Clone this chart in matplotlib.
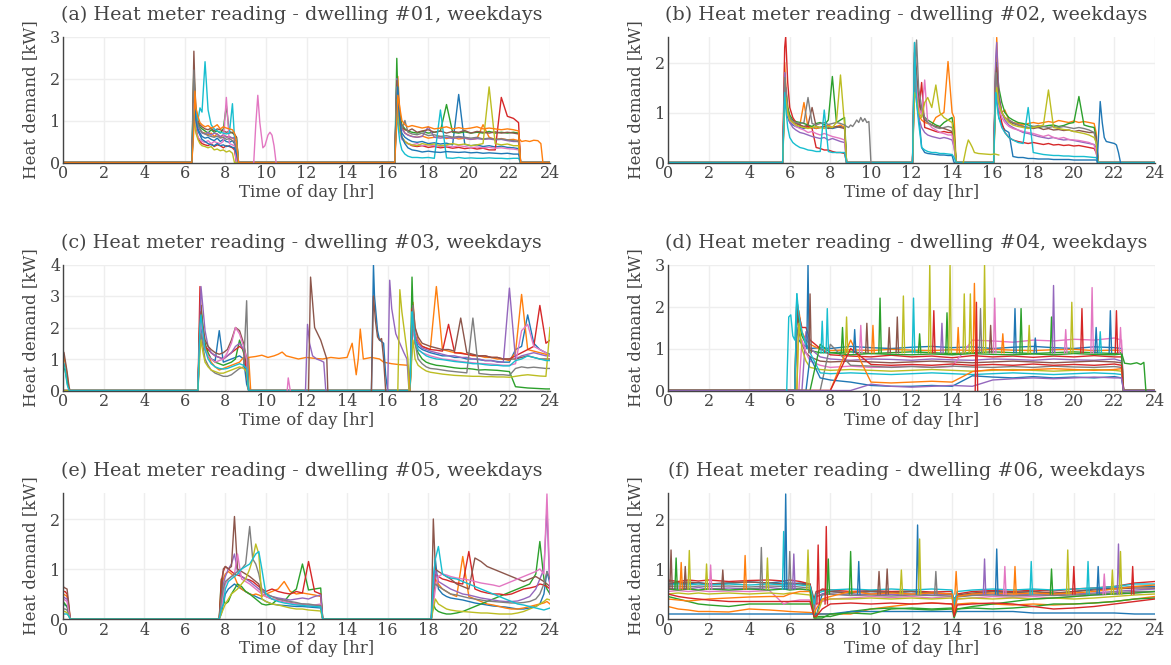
import matplotlib
matplotlib.use('Agg')
import matplotlib.pyplot as plt

# plotly / d3 default colour cycle
COLORS = ['#1f77b4', '#ff7f0e', '#2ca02c', '#d62728', '#9467bd',
          '#8c564b', '#e377c2', '#7f7f7f', '#bcbd22', '#17becf']

TITLES = ['(a) Heat meter reading - dwelling #01, weekdays',
          '(b) Heat meter reading - dwelling #02, weekdays',
          '(c) Heat meter reading - dwelling #03, weekdays',
          '(d) Heat meter reading - dwelling #04, weekdays',
          '(e) Heat meter reading - dwelling #05, weekdays',
          '(f) Heat meter reading - dwelling #06, weekdays']
Y_MAX = [3, 2.52, 4, 3, 2.52, 2.52]
Y_TICKS = [[0, 1, 2, 3], [0, 1, 2], [0, 1, 2, 3, 4], [0, 1, 2, 3], [0, 1, 2], [0, 1, 2]]
X_TICKS = [0, 2, 4, 6, 8, 10, 12, 14, 16, 18, 20, 22, 24]

# ---------------- dwelling 01 ----------------
A_T_AM = [6.35, 6.45, 6.5, 6.55, 6.65, 6.75, 6.85, 7.0, 7.15, 7.3, 7.45, 7.6, 7.75, 7.9, 8.05, 8.2, 8.35, 8.45, 8.55, 8.65]
A_T_PM = [16.35, 16.45, 16.5, 16.6, 16.7, 16.85, 17.0, 17.2, 17.45, 17.7, 18.0, 18.3, 18.6, 18.9, 19.2, 19.5, 19.8, 20.1, 20.4,
          20.7, 21.0, 21.3, 21.6, 21.9, 22.2, 22.45, 22.55]
A_AM = [
    [0, 1.6, 1.2, 0.95, 0.8, 0.7, 0.62, 0.58, 0.6, 0.55, 0.52, 0.58, 0.5, 0.55, 0.5, 0.48, 0.52, 0.45, 0, 0],
    [0, 2.0, 1.5, 1.1, 0.9, 0.78, 0.72, 0.7, 0.66, 0.7, 0.62, 0.68, 0.6, 0.65, 0.62, 0.6, 0.58, 0.55, 0.5, 0],
    [0, 2.3, 1.6, 1.2, 0.95, 0.85, 0.8, 0.75, 0.7, 0.78, 0.72, 0.75, 0.7, 0.8, 1.35, 0.7, 0.72, 0.65, 0.6, 0],
    [0, 1.5, 1.1, 0.8, 0.6, 0.5, 0.45, 0.42, 0.4, 0.45, 0.38, 0.42, 0.4, 0.35, 0.4, 0.38, 0.35, 0.3, 0, 0],
    [0, 1.8, 1.4, 1.0, 0.85, 0.78, 0.7, 0.68, 0.72, 0.65, 0.7, 0.68, 0.62, 0.66, 0.6, 0.62, 0.58, 0.6, 0, 0],
    [0, 2.65, 1.8, 1.3, 1.0, 0.9, 0.85, 0.8, 0.78, 0.82, 0.75, 0.8, 0.78, 0.75, 0.72, 0.74, 0.7, 0.68, 0.6, 0],
    [0, 1.4, 1.0, 0.75, 0.6, 0.55, 0.5, 0.48, 0.52, 0.45, 0.5, 0.47, 0.45, 0.5, 1.55, 0.45, 0.42, 0.4, 0, 0],
    [0, 2.2, 1.5, 1.1, 0.9, 0.8, 0.72, 0.68, 0.64, 0.62, 0.6, 0.63, 0.58, 0.6, 0.55, 0.57, 0.52, 0.5, 0.3, 0],
    [0, 1.2, 0.9, 0.7, 0.55, 0.45, 0.4, 0.38, 0.35, 0.38, 0.3, 0.32, 0.28, 0.3, 0.25, 0.28, 0.22, 0, 0, 0],
    [0, 1.0, 1.4, 1.2, 1.0, 1.3, 1.2, 2.4, 1.25, 0.9, 0.8, 0.75, 0.72, 0.7, 0.68, 0.7, 1.4, 0.6, 0.55, 0],
    [0, 1.1, 1.3, 1.0, 0.75, 0.65, 0.55, 0.5, 0.45, 0.42, 0.4, 0.45, 0.4, 0.42, 0.38, 0.4, 0.36, 0.35, 0.2, 0],
    [0, 0.8, 1.7, 1.3, 1.1, 0.95, 0.9, 0.85, 0.88, 0.82, 0.85, 0.9, 0.8, 0.85, 0.82, 0.8, 0.78, 0.7, 0.5, 0],
]
A_PM = [
    [0, 1.9, 1.4, 0.9, 0.7, 0.6, 0.55, 0.5, 0.48, 0.5, 0.45, 0.47, 0.44, 0.46, 0.42, 1.62, 0.43, 0.4, 0.42, 0.38, 0.4, 0.37, 0.39, 0.36, 0.35, 0.33, 0],
    [0, 1.7, 2.05, 1.2, 0.85, 0.7, 0.66, 0.62, 0.6, 0.63, 0.58, 0.6, 0.62, 0.57, 0.6, 0.56, 0.58, 0.55, 0.57, 0.9, 0.6, 0.55, 0.57, 0.54, 0.55, 0.52, 0],
    [0, 2.48, 1.6, 1.1, 0.9, 0.8, 0.75, 0.72, 0.7, 0.74, 0.7, 0.72, 0.75, 1.38, 0.72, 0.7, 0.73, 0.7, 0.72, 0.7, 0.74, 0.7, 0.72, 0.7, 0.72, 0.7, 0],
    [0, 1.6, 1.2, 0.8, 0.6, 0.5, 0.45, 0.4, 0.38, 0.4, 0.36, 0.38, 0.35, 0.37, 0.34, 0.36, 0.33, 0.35, 0.32, 0.34, 0.3, 0.3, 1.55, 1.1, 1.05, 0.95, 0],
    [0, 2.0, 1.5, 1.0, 0.8, 0.7, 0.65, 0.62, 0.6, 0.62, 0.85, 0.6, 0.58, 0.6, 0.57, 0.6, 0.58, 0.55, 0.57, 0.55, 0.56, 0.54, 0.55, 0.52, 0.5, 0.5, 0],
    [0, 1.95, 1.4, 1.0, 0.85, 0.78, 0.75, 0.8, 0.72, 0.75, 0.78, 0.72, 0.75, 0.7, 0.74, 0.72, 0.76, 0.7, 0.74, 0.72, 0.7, 0.73, 0.7, 0.72, 0.7, 0.68, 0],
    [0, 1.3, 1.0, 0.7, 0.55, 0.5, 0.45, 0.42, 0.45, 0.4, 0.42, 0.4, 0.38, 0.4, 0.37, 0.4, 0.38, 0.35, 0.37, 0.35, 0.36, 0.34, 0.35, 0.33, 0.32, 0.3, 0],
    [0, 1.8, 1.3, 0.95, 0.8, 1.0, 0.72, 0.68, 0.66, 0.7, 0.64, 0.66, 0.62, 0.64, 0.6, 0.62, 0.6, 0.58, 0.6, 0.56, 0.58, 0.55, 0.56, 0.54, 0.52, 0.5, 0],
    [0, 1.5, 1.1, 0.75, 0.6, 0.5, 0.45, 0.42, 0.4, 0.45, 0.42, 0.44, 0.4, 0.42, 0.45, 0.42, 0.44, 0.4, 0.42, 0.45, 1.8, 0.45, 0.42, 0.44, 0.4, 0.4, 0],
    [0, 1.2, 0.9, 0.5, 0.3, 0.2, 0.15, 0.12, 0.12, 0.11, 0.12, 0.1, 1.25, 0.11, 0.1, 0.12, 0.1, 0.11, 0.1, 0.1, 0.11, 0.1, 0.1, 0.09, 0.1, 0.1, 0],
    [0, 1.4, 1.8, 1.0, 0.6, 0.45, 0.35, 0.3, 0.28, 0.25, 0.27, 0.25, 0.24, 0.26, 0.25, 0.24, 0.25, 0.23, 0.24, 0.22, 0.23, 0.22, 0.21, 0.22, 0.2, 0.2, 0],
    [0, 1.0, 1.6, 1.3, 1.0, 0.9, 0.85, 0.88, 0.85, 0.82, 0.85, 0.8, 0.82, 0.85, 0.8, 0.83, 0.8, 0.82, 0.85, 0.8, 0.82, 0.8, 0.78, 0.8, 0.78, 0.75, 0],
]
A_EXTRA = [
    ([9.4, 9.5, 9.6, 9.7, 9.85, 9.95, 10.1, 10.2, 10.3, 10.4, 10.5], [0, 0.9, 1.6, 0.95, 0.35, 0.4, 0.65, 0.72, 0.65, 0.4, 0]),
    ([22.5, 22.6, 22.8, 23.0, 23.2, 23.4, 23.55, 23.65], [0.55, 0.5, 0.52, 0.5, 0.53, 0.52, 0.45, 0]),
]
A_EXTRA_COLORS = [6, 1]

# ---------------- dwelling 02 ----------------
B_T_AM = [5.65, 5.75, 5.8, 5.9, 6.0, 6.15, 6.3, 6.5, 6.7, 6.9, 7.1, 7.3, 7.5, 7.7, 7.9, 8.1, 8.3, 8.5, 8.7, 8.8]
B_T_MID = [12.05, 12.15, 12.25, 12.35, 12.5, 12.65, 12.8, 13.0, 13.2, 13.4, 13.6, 13.8, 14.0, 14.1, 14.2]
B_T_PM = [16.05, 16.15, 16.2, 16.3, 16.45, 16.6, 16.8, 17.0, 17.25, 17.5, 17.75, 18.0, 18.25, 18.5, 18.75, 19.0, 19.25,
          19.5, 19.75, 20.0, 20.25, 20.5, 20.75, 21.0, 21.1, 21.2]
B_AM = [
    [0, 1.5, 1.2, 0.9, 0.8, 0.75, 0.72, 0.7, 0.68, 0.72, 0.7, 0.68, 0.7, 0.72, 0.7, 0.68, 0.7, 0.72, 0.7, 0],
    [0, 2.0, 1.6, 1.1, 0.9, 0.8, 0.78, 0.75, 1.2, 0.7, 0.72, 0.68, 0.7, 0.72, 0.75, 0.7, 0.72, 0.75, 0.7, 0],
    [0, 1.3, 1.5, 1.1, 0.95, 0.85, 0.82, 0.8, 0.78, 0.75, 0.72, 0.78, 0.8, 0.75, 0.85, 1.72, 0.8, 0.85, 0.9, 0],
    [0, 2.3, 2.52, 1.6, 1.1, 0.9, 0.8, 0.75, 0.7, 0.72, 0.68, 0.3, 0.28, 0.25, 0.25, 0.22, 0.2, 0.2, 0.18, 0],
    [0, 1.8, 1.5, 1.0, 0.8, 0.7, 0.65, 0.6, 0.58, 0.55, 0.52, 0.5, 0.48, 0.5, 0.45, 0.48, 0.45, 0.42, 0.4, 0],
    [0, 1.6, 1.3, 1.0, 0.85, 0.8, 0.78, 0.75, 0.72, 0.75, 1.1, 0.72, 0.7, 0.72, 0.68, 0.7, 0.72, 0.7, 0.68, 0],
    [0, 1.4, 1.2, 0.95, 0.85, 0.78, 0.72, 0.68, 0.65, 0.6, 0.62, 0.58, 0.55, 0.58, 0.55, 0.52, 0.5, 0.48, 0.45, 0],
    [0, 1.7, 1.4, 1.0, 0.9, 0.82, 0.8, 0.78, 0.8, 1.3, 0.78, 0.75, 0.78, 0.8, 0.76, 0.78, 0.8, 0.78, 0.75, 0],
    [0, 1.1, 1.3, 1.0, 0.85, 0.8, 0.75, 0.72, 0.7, 0.68, 0.7, 0.72, 0.7, 0.68, 0.72, 0.7, 0.8, 1.75, 0.75, 0],
    [0, 1.4, 1.1, 0.7, 0.5, 0.4, 0.35, 0.3, 0.28, 0.25, 0.24, 0.22, 0.22, 1.05, 0.22, 0.2, 0.2, 0.2, 0.2, 0],
]
B_MID = [
    [0, 2.0, 1.4, 1.0, 0.3, 0.2, 0.18, 0.17, 0.16, 0.15, 0.15, 0.14, 0.14, 0, 0],
    [0, 1.7, 1.3, 0.95, 0.85, 0.8, 0.78, 0.75, 0.9, 0.95, 1.0, 2.02, 1.0, 0.9, 0],
    [0, 1.8, 1.6, 1.2, 1.0, 0.9, 0.85, 0.8, 0.75, 0.72, 0.8, 0.85, 0.9, 0.6, 0],
    [0, 2.2, 1.4, 1.0, 1.6, 0.7, 0.68, 0.65, 0.62, 0.6, 0.62, 0.6, 0.6, 0.4, 0],
    [0, 1.5, 1.2, 0.9, 0.7, 0.6, 0.55, 0.52, 0.5, 0.48, 0.5, 0.48, 0.45, 0.3, 0],
    [0, 2.4, 1.8, 1.3, 1.0, 0.85, 0.8, 0.75, 0.72, 0.7, 0.68, 0.65, 0.62, 0.5, 0],
    [0, 1.9, 1.5, 1.1, 0.95, 1.65, 0.8, 0.7, 0.65, 0.6, 0.58, 0.55, 0.55, 0.3, 0],
    [0, 1.6, 2.45, 1.5, 1.1, 0.9, 0.8, 0.75, 0.7, 0.68, 0.7, 0.72, 0.7, 0.5, 0],
    [0, 1.4, 1.3, 1.0, 0.9, 1.2, 1.3, 1.1, 1.55, 1.0, 0.9, 0.85, 0.8, 0.5, 0],
    [0, 2.4, 1.2, 0.8, 0.3, 0.25, 0.22, 0.2, 0.2, 0.18, 0.18, 0.17, 0.16, 0.1, 0],
]
B_PM = [
    [0, 1.8, 1.3, 0.9, 0.75, 0.65, 0.6, 0.12, 0.1, 0.1, 0.08, 0.08, 0.07, 0.07, 0.07, 0.06, 0.06, 0.06, 0.06, 0.05, 0.05, 0.05, 0.05, 0.05, 0.05, 0],
    [0, 1.5, 2.5, 1.3, 1.0, 1.05, 0.85, 0.8, 0.78, 0.75, 0.78, 0.8, 0.78, 0.8, 0.82, 0.8, 0.84, 0.82, 0.8, 0.83, 0.8, 0.82, 0.8, 0.78, 0.6, 0],
    [0, 1.9, 2.0, 1.5, 1.2, 1.0, 0.9, 0.85, 0.8, 0.78, 0.75, 0.72, 0.7, 0.72, 0.74, 0.75, 0.72, 0.74, 0.78, 0.8, 1.32, 0.75, 0.72, 0.7, 0.5, 0],
    [0, 2.0, 1.6, 1.1, 0.8, 0.6, 0.5, 0.45, 0.42, 0.4, 0.38, 0.4, 0.38, 0.36, 0.38, 0.35, 0.36, 0.34, 0.35, 0.33, 0.34, 0.32, 0.3, 0.28, 0.2, 0],
    [0, 2.1, 2.4, 1.4, 1.0, 0.85, 0.75, 0.7, 0.65, 0.6, 0.58, 0.55, 0.52, 0.5, 0.48, 0.5, 0.47, 0.45, 0.46, 0.44, 0.42, 0.4, 0.38, 0.36, 0.3, 0],
    [0, 1.7, 1.9, 1.3, 1.0, 0.9, 0.82, 0.78, 0.75, 0.72, 0.7, 0.68, 0.7, 0.66, 0.68, 0.65, 0.66, 0.64, 0.65, 0.62, 0.64, 0.62, 0.6, 0.6, 0.5, 0],
    [0, 1.6, 1.4, 1.1, 0.9, 0.8, 0.72, 0.68, 0.65, 0.62, 0.6, 0.58, 0.55, 0.52, 0.55, 0.5, 0.48, 0.5, 0.46, 0.45, 0.44, 0.42, 0.4, 0.35, 0.2, 0],
    [0, 1.8, 1.6, 1.2, 1.0, 0.9, 0.85, 0.8, 0.75, 0.72, 0.7, 0.72, 0.74, 0.72, 0.7, 0.72, 0.7, 0.72, 0.7, 0.68, 0.7, 0.68, 0.65, 0.6, 0.4, 0],
    [0, 1.2, 1.5, 1.2, 1.0, 0.9, 0.8, 0.75, 0.72, 0.7, 0.68, 0.7, 0.72, 0.75, 1.45, 0.7, 0.68, 0.66, 0.65, 0.62, 0.6, 0.58, 0.55, 0.5, 0.4, 0],
    [0, 1.4, 1.2, 0.9, 0.7, 0.6, 0.5, 0.45, 0.4, 0.38, 1.1, 0.2, 0.18, 0.16, 0.15, 0.14, 0.14, 0.13, 0.13, 0.12, 0.12, 0.12, 0.11, 0.1, 0.1, 0],
]
B_EXTRA = [
    ([8.7, 8.8, 8.9, 9.0, 9.1, 9.2, 9.3, 9.4, 9.5, 9.6, 9.7, 9.8, 9.9, 10.0],
     [0.75, 0.72, 0.7, 0.75, 0.72, 0.78, 0.85, 0.8, 0.9, 0.82, 0.88, 0.8, 0.82, 0]),
    ([14.55, 14.7, 14.8, 14.9, 15.0, 15.1, 15.3, 15.6, 15.9, 16.1, 16.3], [0, 0.3, 0.45, 0.38, 0.3, 0.2, 0.18, 0.17, 0.16, 0.17, 0.15]),
    ([21.15, 21.25, 21.3, 21.4, 21.5, 21.6, 21.8, 22.0, 22.1, 22.2, 22.3], [0, 0.8, 1.22, 0.8, 0.5, 0.42, 0.4, 0.38, 0.35, 0.2, 0]),
]
B_EXTRA_COLORS = [7, 8, 0]

# ---------------- dwelling 03 ----------------
C_T_0 = [0.0, 0.05, 0.1, 0.2, 0.3, 0.35]
C_T_AM = [6.65, 6.75, 6.8, 6.9, 7.0, 7.15, 7.3, 7.5, 7.7, 7.9, 8.1, 8.3, 8.5, 8.7, 8.9, 9.05, 9.15, 9.25]
C_T_PM = [17.1, 17.2, 17.25, 17.35, 17.5, 17.7, 17.9, 18.1, 18.4, 18.7, 19.0, 19.3, 19.6, 19.9, 20.2, 20.5, 20.8, 21.1,
          21.4, 21.7, 22.0, 22.3, 22.6, 22.9, 23.2, 23.5, 23.8, 24.0]
C_START = [
    [0, 0, 0, 0, 0, 0],
    [1.1, 1.05, 0.9, 0.5, 0.05, 0],
    [0.75, 0.7, 0.65, 0.3, 0, 0],
    [0, 0, 0, 0, 0, 0],
    [0, 0, 0, 0, 0, 0],
    [1.25, 1.2, 1.0, 0.6, 0.1, 0],
    [0, 0, 0, 0, 0, 0],
    [0, 0, 0, 0, 0, 0],
    [0, 0, 0, 0, 0, 0],
    [0.9, 0.85, 0.7, 0.2, 0, 0],
]
C_AM = [
    [0, 2.35, 2.0, 1.6, 1.3, 1.1, 1.0, 0.95, 1.9, 0.9, 0.95, 1.0, 1.05, 1.1, 1.0, 0.2, 0, 0],
    [0, 2.2, 2.7, 1.8, 1.4, 1.1, 0.9, 0.75, 0.65, 0.7, 0.75, 0.8, 0.85, 0.9, 1.05, 1.0, 1.05, 0],
    [0, 2.5, 2.7, 2.0, 1.5, 1.2, 1.0, 0.9, 0.85, 0.8, 0.85, 0.9, 1.0, 1.6, 1.2, 0.8, 0, 0],
    [0, 3.3, 2.5, 1.8, 1.4, 1.3, 1.2, 1.1, 1.05, 1.0, 1.1, 1.2, 1.3, 1.4, 1.3, 0.5, 0, 0],
    [0, 2.0, 3.3, 2.6, 1.9, 1.4, 1.2, 1.1, 1.05, 1.0, 1.1, 1.2, 1.4, 1.5, 1.3, 1.0, 0, 0],
    [0, 2.0, 2.5, 2.0, 1.6, 1.4, 1.3, 1.2, 1.15, 1.2, 1.3, 1.6, 2.0, 1.9, 1.5, 1.0, 0, 0],
    [0, 1.8, 2.2, 1.7, 1.3, 1.1, 1.0, 0.9, 0.95, 1.0, 1.2, 1.5, 2.0, 1.8, 1.4, 1.0, 0, 0],
    [0, 1.5, 1.8, 1.4, 1.0, 0.8, 0.65, 0.55, 0.5, 0.45, 0.45, 0.5, 0.6, 0.7, 0.75, 2.85, 0, 0],
    [0, 1.2, 1.6, 1.2, 0.9, 0.75, 0.65, 0.6, 0.55, 0.55, 0.6, 0.65, 0.7, 0.75, 0.7, 0.6, 0, 0],
    [0, 2.1, 2.4, 1.8, 1.3, 1.0, 0.85, 0.75, 0.7, 0.68, 0.7, 0.75, 0.8, 0.85, 0.8, 0.7, 0, 0],
]
C_PM = [
    [0, 2.2, 2.0, 1.6, 1.4, 1.3, 1.25, 1.2, 1.15, 1.1, 1.1, 1.05, 1.05, 1.0, 1.0, 0.98, 0.95, 0.95, 0.92, 0.9, 0.9, 1.3, 1.4, 2.4, 1.5, 1.3, 1.2, 1.15],
    [0, 1.5, 2.8, 2.0, 1.6, 1.4, 1.35, 1.3, 3.3, 1.3, 1.25, 1.2, 1.2, 1.15, 1.1, 1.1, 1.05, 1.05, 1.0, 1.0, 0.95, 1.2, 3.05, 1.3, 1.25, 1.2, 1.15, 1.1],
    [0, 3.6, 2.5, 1.5, 1.2, 1.0, 0.9, 0.85, 0.8, 0.78, 0.75, 0.72, 0.7, 0.7, 0.68, 0.65, 0.66, 0.65, 0.64, 0.62, 0.6, 0.12, 0.1, 0.08, 0.07, 0.06, 0.05, 0.05],
    [0, 2.6, 2.0, 1.7, 1.5, 1.4, 1.35, 1.3, 1.28, 1.25, 2.1, 1.2, 1.18, 1.15, 1.12, 1.1, 1.1, 1.05, 1.05, 1.0, 1.0, 1.1, 1.2, 1.3, 1.4, 2.7, 1.5, 1.6],
    [0, 2.2, 2.6, 1.8, 1.5, 1.35, 1.3, 1.25, 1.2, 1.15, 1.1, 1.1, 1.05, 1.05, 1.0, 1.0, 0.95, 0.95, 0.9, 0.9, 3.25, 1.0, 1.1, 1.15, 1.2, 1.15, 1.1, 1.1],
    [0, 2.0, 2.7, 2.0, 1.7, 1.5, 1.45, 1.4, 1.35, 1.3, 1.3, 1.25, 2.3, 1.2, 1.15, 1.1, 1.1, 1.05, 1.05, 1.0, 1.0, 1.0, 1.05, 1.1, 1.05, 1.0, 1.0, 1.0],
    [0, 1.6, 2.0, 1.5, 1.3, 1.2, 1.15, 1.1, 1.05, 1.0, 0.98, 0.95, 0.92, 0.9, 0.88, 0.86, 0.85, 0.84, 0.82, 0.8, 0.8, 0.85, 1.9, 2.1, 1.4, 1.3, 1.2, 1.1],
    [0, 1.4, 2.7, 1.5, 1.0, 0.85, 0.75, 0.7, 0.68, 0.65, 0.62, 0.6, 0.58, 0.56, 2.3, 0.54, 0.52, 0.5, 0.5, 0.5, 0.48, 0.7, 0.75, 0.72, 0.74, 0.72, 0.7, 0.7],
    [0, 1.2, 1.6, 1.0, 0.8, 0.7, 0.62, 0.58, 0.55, 0.52, 0.5, 0.48, 0.47, 0.46, 0.45, 0.45, 0.44, 0.44, 0.43, 0.43, 0.42, 0.45, 0.48, 0.5, 0.48, 0.46, 0.45, 2.0],
    [0, 2.5, 2.2, 1.6, 1.3, 1.2, 1.1, 1.05, 1.0, 0.98, 0.95, 0.92, 0.9, 0.88, 0.85, 0.85, 0.82, 0.8, 0.8, 0.78, 0.78, 0.95, 1.0, 1.1, 1.05, 1.0, 0.95, 0.95],
]
C_EXTRA = [
    ([9.15, 9.5, 9.8, 10.1, 10.4, 10.6, 10.8, 11.0, 11.3, 11.6, 12.0, 12.4, 12.8, 13.2, 13.6, 14.0, 14.25, 14.35, 14.45,
      14.55, 14.65, 14.8, 15.2, 15.6, 15.8, 16.2, 16.6, 17.0, 17.1],
     [1.05, 1.08, 1.12, 1.05, 1.1, 1.15, 1.22, 1.1, 1.05, 1.0, 1.05, 1.02, 1.0, 1.05, 1.02, 1.05, 1.5, 1.0, 0.5,
      1.0, 1.95, 1.0, 1.05, 1.0, 0.9, 0.85, 0.82, 0.8, 0]),
    ([11.05, 11.1, 11.2], [0, 0.4, 0]),
    ([11.95, 12.05, 12.15, 12.3, 12.5, 12.7, 12.85, 12.95], [0, 2.1, 1.5, 1.1, 1.0, 0.95, 0.9, 0]),
    ([12.1, 12.2, 12.3, 12.4, 12.55, 12.7, 12.85, 13.0, 13.05], [0, 3.6, 2.8, 2.0, 1.8, 1.6, 1.3, 1.0, 0]),
    ([15.2, 15.3, 15.35, 15.5, 15.6, 15.7, 15.8, 15.9, 16.0], [0, 4.0, 3.0, 1.9, 1.6, 1.55, 1.5, 0.5, 0]),
    ([15.2, 15.3, 15.4, 15.5, 15.6, 15.7, 15.8, 15.9], [0, 3.0, 2.2, 1.7, 1.6, 1.65, 1.0, 0]),
    ([16.0, 16.1, 16.2, 16.4, 16.6, 16.8, 16.95, 17.05], [0, 3.5, 2.6, 1.8, 1.5, 1.2, 1.0, 0]),
    ([16.5, 16.6, 16.7, 16.9, 17.0, 17.05], [0, 3.2, 2.5, 1.5, 1.0, 0]),
]
C_EXTRA_COLORS = [1, 6, 4, 5, 0, 5, 4, 8]

# ---------------- dwelling 04 ----------------
D_T = [6.25, 6.35, 6.45, 6.6, 6.8, 7.0, 7.5, 8.0, 9.0, 10.0, 11.0, 12.0, 13.0, 14.0, 15.0, 16.0, 17.0, 18.0, 19.0, 20.0,
       21.0, 22.0, 22.35, 22.45]
D_DAY = [
    [0, 1.5, 1.2, 1.1, 1.05, 1.0, 1.02, 1.0, 1.05, 1.02, 1.0, 1.03, 1.05, 1.02, 1.04, 1.0, 1.03, 1.05, 1.02, 1.0, 1.04, 1.02, 1.0, 0],
    [0, 0, 1.9, 1.4, 1.2, 1.1, 0.98, 0.95, 0.97, 0.95, 0.98, 0.96, 0.95, 0.97, 0.95, 0.98, 0.96, 0.95, 0.97, 0.98, 0.95, 0.96, 0.95, 0],
    [0, 2.2, 1.6, 1.3, 1.1, 0.95, 0.9, 0.9, 0.92, 0.88, 0.9, 0.92, 0.9, 0.88, 0.9, 0.92, 0.9, 0.88, 0.9, 0.92, 0.9, 0.88, 0.9, 0],
    [0, 2.15, 1.8, 1.5, 1.5, 1.2, 1.0, 0.85, 0.82, 0.8, 0.84, 0.8, 0.82, 0.78, 0.83, 0.8, 0.82, 0.79, 0.82, 0.8, 0.83, 0.8, 0.8, 0],
    [0, 0, 0, 0, 1.4, 1.0, 0.8, 0.75, 0.72, 0.75, 0.74, 0.72, 0.75, 0.73, 0.72, 0.75, 0.74, 0.72, 0.75, 0.73, 0.72, 0.75, 0.7, 0],
    [0, 1.9, 1.4, 1.1, 0.9, 0.8, 0.7, 0.68, 0.7, 0.68, 0.66, 0.68, 0.7, 0.68, 0.66, 0.68, 0.7, 0.68, 0.66, 0.68, 0.7, 0.68, 0.66, 0],
    [0, 0, 0, 1.2, 0.9, 0.7, 0.6, 0.55, 0.58, 0.55, 0.56, 0.58, 0.55, 0.57, 1.2, 1.18, 1.15, 1.2, 1.18, 1.22, 1.2, 1.25, 1.2, 0],
    [0, 0, 0, 0, 0, 0, 0, 1.1, 0.6, 0.58, 0.55, 0.57, 0.55, 0.58, 0.56, 0.55, 0.57, 0.55, 0.58, 0.56, 0.55, 0.57, 0.55, 0],
    [0, 0, 1.6, 1.0, 0.7, 0.55, 0.5, 0.48, 0.5, 0.48, 0.46, 0.48, 0.5, 0.48, 0.46, 0.48, 0.5, 0.48, 0.46, 0.48, 0.5, 0.48, 0.46, 0],
    [0, 2.3, 1.8, 1.4, 1.1, 0.9, 0.42, 0.4, 0.42, 0.4, 0.38, 0.4, 0.42, 0.4, 0.38, 0.4, 0.42, 0.4, 0.38, 0.4, 0.42, 0.4, 0.38, 0],
    [0, 0, 0, 0, 0, 0.8, 0.3, 0.25, 0.2, 0.12, 0.1, 0.1, 0.12, 0.1, 0.35, 0.32, 0.3, 0.33, 0.3, 0.32, 0.3, 0.33, 0.3, 0],
    [0, 0, 0, 0, 0, 0, 0, 0, 1.2, 0.2, 0.18, 0.2, 0.22, 0.2, 0.45, 0.5, 0.48, 0.5, 0.52, 0.5, 0.48, 0.5, 0.52, 0],
    [0, 0, 0, 0, 0, 0, 1.1, 0.9, 0.85, 0.88, 0.86, 0.85, 0.87, 0.85, 0.88, 0.86, 0.85, 0.87, 0.85, 0.88, 0.86, 0.85, 0.87, 0],
    [0, 0, 0, 0, 0, 0, 0, 0, 1.0, 0.62, 0.6, 0.62, 0.6, 0.63, 0.6, 0.62, 0.6, 0.63, 0.6, 0.62, 0.6, 0.63, 0.6, 0],
    [0, 0, 0, 0, 0, 0, 0, 0, 0, 0.15, 0.1, 0.08, 0.1, 0.12, 0.1, 0.25, 0.28, 0.3, 0.28, 0.3, 0.32, 0.3, 0.3, 0],
]
D_EXTRA = [
    ([5.85, 5.95, 6.05, 6.15, 6.25, 6.35], [0, 1.75, 1.8, 1.3, 1.2, 2.3]),
    ([22.35, 22.5, 22.8, 23.1, 23.3, 23.45, 23.55], [0.9, 0.65, 0.63, 0.66, 0.62, 0.67, 0]),
]
D_EXTRA_COLORS = [9, 2]
# short spikes: (time, level before/after, peak)
D_SPIKES = [(6.9, 1.0, 3.0), (7.0, 0.9, 2.3), (7.6, 0.9, 1.65), (7.85, 0.9, 1.95), (8.6, 0.9, 1.5), (8.8, 0.9, 1.75),
            (9.2, 0.9, 1.45), (9.5, 0.9, 1.55), (9.8, 0.9, 1.6), (10.1, 0.9, 1.55), (10.45, 0.9, 2.2), (10.9, 0.9, 1.5),
            (11.3, 0.9, 1.75), (11.6, 0.9, 2.25), (12.1, 0.9, 2.2), (12.4, 0.9, 1.35), (12.9, 0.9, 3.0), (13.1, 0.9, 1.9),
            (13.5, 0.9, 1.6), (13.75, 0.9, 1.85), (13.9, 0.9, 3.0), (14.3, 0.9, 1.5), (14.6, 0.9, 2.3), (14.9, 0.9, 2.3),
            (15.1, 0.9, 2.55), (15.2, 0.0, 2.1), (15.4, 0.9, 1.95), (15.6, 0.9, 3.0), (15.9, 0.9, 1.55), (16.1, 0.9, 2.2),
            (16.5, 0.9, 1.35), (17.1, 0.9, 1.95), (17.4, 0.9, 1.95), (17.8, 0.9, 1.55), (18.1, 0.9, 1.25), (18.9, 0.9, 1.75),
            (19.0, 0.9, 2.5), (19.6, 0.9, 1.45), (19.9, 0.9, 2.1), (20.4, 0.9, 1.95), (20.9, 0.9, 2.45), (21.1, 0.9, 1.5),
            (21.3, 0.9, 1.4), (21.8, 0.9, 1.9), (22.1, 0.9, 1.9), (22.3, 0.9, 1.5)]
D_SPIKE_COLORS = [0, 5, 9, 9, 2, 8, 0, 6, 5, 1, 2, 5, 5, 8, 9, 2, 8, 3, 4, 2, 8, 1, 8, 8, 1, 3, 7, 8, 5, 6, 1, 0, 2, 8,
                  0, 2, 4, 6, 8, 3, 6, 0, 9, 0, 3, 6]

# ---------------- dwelling 05 ----------------
E_T_0 = [0.0, 0.1, 0.2, 0.3, 0.35]
E_T_AM = [7.7, 7.8, 7.9, 8.0, 8.15, 8.3, 8.45, 8.6, 8.8, 9.0, 9.2, 9.35, 9.5, 9.65, 9.8, 10.0, 10.3, 10.6, 10.9, 11.2,
          11.5, 11.8, 12.1, 12.4, 12.7, 12.8]
E_T_PM = [18.15, 18.25, 18.35, 18.5, 18.7, 18.9, 19.1, 19.4, 19.7, 20.0, 20.3, 20.6, 20.9, 21.2, 21.5, 21.8, 22.1, 22.4,
          22.7, 23.0, 23.3, 23.5, 23.7, 23.85, 24.0]
E_START = [
    [0.3, 0.28, 0.25, 0.1, 0],
    [0.5, 0.48, 0.45, 0.2, 0],
    [0.35, 0.3, 0.25, 0.1, 0],
    [0.55, 0.55, 0.5, 0.2, 0],
    [0.45, 0.42, 0.4, 0.15, 0],
    [0.65, 0.62, 0.6, 0.25, 0],
    [0.4, 0.38, 0.35, 0.1, 0],
    [0.2, 0.2, 0.18, 0.05, 0],
    [0.15, 0.15, 0.12, 0.05, 0],
    [0.1, 0.1, 0.1, 0.05, 0],
]
E_AM = [
    [0, 0.1, 0.3, 0.5, 0.6, 0.65, 0.7, 0.65, 0.6, 0.55, 0.5, 0.48, 0.45, 0.42, 0.4, 0.35, 0.3, 0.28, 0.27, 0.26, 0.25, 0.25, 0.24, 0.23, 0.22, 0],
    [0, 0.6, 0.8, 0.9, 0.95, 0.9, 0.85, 0.7, 0.6, 0.55, 0.5, 0.48, 0.5, 0.48, 0.45, 0.5, 0.55, 0.6, 0.75, 0.55, 0.5, 0.52, 0.5, 0.48, 0.45, 0],
    [0, 0.8, 0.4, 0.3, 0.35, 0.5, 0.6, 0.7, 0.65, 0.55, 0.5, 0.45, 0.4, 0.35, 0.3, 0.28, 0.3, 0.4, 0.35, 0.5, 0.6, 1.1, 0.58, 0.6, 0.62, 0],
    [0, 0.75, 0.95, 1.05, 1.0, 0.95, 0.9, 0.88, 0.85, 0.8, 0.78, 0.75, 0.7, 0.65, 0.6, 0.55, 0.6, 0.55, 0.52, 0.5, 0.55, 0.52, 1.15, 0.55, 0.5, 0],
    [0, 0.3, 0.7, 0.85, 1.0, 1.1, 1.3, 0.95, 0.85, 0.8, 0.75, 0.7, 0.65, 0.6, 0.55, 0.5, 0.45, 0.42, 0.4, 0.38, 0.4, 0.42, 0.4, 0.45, 0.48, 0],
    [0, 0.5, 1.0, 1.05, 1.0, 1.05, 2.05, 1.0, 0.95, 0.9, 0.85, 0.8, 0.75, 0.7, 0.5, 0.45, 0.4, 0.38, 0.35, 0.33, 0.3, 0.3, 0.28, 0.27, 0.26, 0],
    [0, 0.2, 0.5, 0.7, 0.8, 0.85, 0.9, 1.3, 0.8, 0.75, 0.7, 0.65, 0.6, 0.55, 0.5, 0.45, 0.4, 0.38, 0.35, 0.32, 0.3, 0.3, 0.28, 0.28, 0.3, 0],
    [0, 0.4, 0.6, 0.75, 0.8, 0.85, 0.9, 0.95, 1.0, 1.1, 1.85, 1.2, 1.1, 0.9, 0.6, 0.5, 0.45, 0.4, 0.38, 0.35, 0.33, 0.3, 0.3, 0.28, 0.27, 0],
    [0, 0.1, 0.2, 0.3, 0.4, 0.5, 0.55, 0.6, 0.7, 0.8, 1.0, 1.2, 1.5, 1.3, 0.4, 0.35, 0.3, 0.28, 0.25, 0.22, 0.2, 0.2, 0.18, 0.17, 0.16, 0],
    [0, 0.2, 0.3, 0.6, 0.75, 0.8, 0.85, 0.9, 1.0, 1.05, 1.1, 1.2, 1.3, 1.35, 1.0, 0.5, 0.4, 0.35, 0.32, 0.3, 0.28, 0.27, 0.26, 0.25, 0.24, 0],
]
E_PM = [
    [0, 0.8, 1.2, 0.6, 0.5, 0.45, 0.42, 0.4, 0.38, 0.35, 0.32, 0.3, 0.28, 0.26, 0.25, 0.24, 0.22, 0.2, 0.2, 0.22, 0.25, 0.3, 0.5, 0.95, 0.7],
    [0, 0.5, 0.8, 0.7, 0.6, 0.55, 0.5, 0.45, 1.25, 0.45, 0.4, 0.35, 0.3, 0.28, 0.25, 0.22, 0.2, 0.2, 0.22, 0.25, 0.28, 0.3, 0.32, 0.35, 0.3],
    [0, 0.3, 0.2, 0.15, 0.12, 0.1, 0.1, 0.12, 0.15, 0.2, 0.25, 0.3, 0.35, 0.4, 0.45, 0.5, 0.55, 0.6, 0.65, 0.7, 0.9, 1.55, 0.8, 0.6, 0.5],
    [0, 0.4, 0.9, 0.85, 0.8, 0.78, 0.75, 0.72, 0.7, 1.35, 0.6, 0.55, 0.52, 0.5, 0.5, 0.48, 0.5, 0.55, 0.6, 0.62, 0.65, 0.7, 0.68, 0.65, 0.6],
    [0, 0.5, 1.0, 0.75, 0.7, 0.65, 0.6, 0.55, 0.5, 0.48, 0.45, 0.42, 0.4, 0.38, 0.36, 0.35, 0.35, 0.36, 0.4, 0.45, 0.6, 0.8, 1.0, 2.2, 0.5],
    [0, 2.0, 1.0, 0.95, 0.9, 0.85, 0.8, 0.7, 0.65, 0.6, 1.22, 1.15, 1.05, 1.0, 0.95, 0.9, 0.85, 0.8, 0.75, 0.8, 0.85, 0.8, 0.75, 0.7, 0.65],
    [0, 0.3, 0.6, 0.85, 0.9, 0.88, 0.85, 0.82, 0.8, 0.78, 0.75, 0.72, 0.7, 0.68, 0.65, 0.7, 0.75, 0.8, 0.85, 0.9, 0.95, 1.0, 0.9, 2.5, 0.6],
    [0, 0.6, 0.7, 0.65, 0.6, 0.55, 0.5, 0.48, 0.45, 0.42, 0.4, 0.38, 0.36, 0.35, 0.34, 0.33, 0.32, 0.32, 0.33, 0.35, 0.4, 0.5, 0.7, 0.95, 0.8],
    [0, 0.2, 0.4, 0.3, 0.25, 0.2, 0.18, 0.16, 0.15, 0.14, 0.13, 0.12, 0.12, 0.11, 0.1, 0.1, 0.1, 0.12, 0.15, 0.2, 0.25, 0.3, 0.35, 0.4, 0.38],
    [0, 0.8, 1.2, 1.45, 0.9, 0.85, 0.82, 0.8, 0.75, 0.7, 0.65, 0.6, 0.55, 0.5, 0.45, 0.4, 0.35, 0.3, 0.28, 0.25, 0.22, 0.2, 0.18, 0.2, 0.22],
]

# ---------------- dwelling 06 ----------------
F_T = [0.0, 0.5, 1.0, 1.5, 2.0, 3.0, 4.0, 5.0, 5.7, 6.0, 6.5, 7.0, 7.2, 7.3, 7.6, 8.0, 9.0, 10.0, 11.0, 12.0, 13.0,
       14.0, 14.1, 14.25, 15.0, 16.0, 17.0, 18.0, 19.0, 20.0, 21.0, 22.0, 23.0, 24.0]
F_DAY = [
    [0.7, 0.72, 0.7, 0.73, 0.7, 0.72, 0.74, 0.72, 0.75, 0.7, 0.72, 0.7, 0.05, 0.05, 0.5, 0.55, 0.52, 0.55, 0.53, 0.55, 0.52, 0.5, 0.05, 0.45, 0.5, 0.55, 0.52, 0.55, 0.5, 0.55, 0.6, 0.62, 0.65, 0.65],
    [0.25, 0.2, 0.18, 0.15, 0.15, 0.14, 0.2, 0.18, 0.16, 0.15, 0.14, 0.13, 0.12, 0.1, 0.1, 0.1, 0.1, 0.2, 0.25, 0.3, 0.32, 0.3, 0.3, 0.3, 0.32, 0.3, 0.28, 0.3, 0.28, 0.3, 0.32, 0.35, 0.4, 0.45],
    [0.45, 0.4, 0.35, 0.3, 0.28, 0.25, 0.3, 0.3, 0.3, 0.3, 0.3, 0.3, 0.28, 0.05, 0.05, 0.05, 0.15, 0.2, 0.22, 0.2, 0.18, 0.2, 0.2, 0.2, 0.22, 0.2, 0.22, 0.25, 0.3, 0.3, 0.32, 0.35, 0.4, 0.42],
    [0.78, 0.75, 0.78, 0.76, 0.78, 0.75, 0.77, 0.78, 0.76, 0.78, 0.75, 0.7, 0.3, 0.5, 0.6, 0.58, 0.55, 0.57, 0.55, 0.56, 0.54, 0.55, 0.3, 0.5, 0.55, 0.57, 0.55, 0.58, 0.56, 0.6, 0.62, 0.65, 0.72, 0.75],
    [0.6, 0.62, 0.6, 0.63, 0.6, 0.62, 0.6, 0.63, 0.6, 0.62, 0.6, 0.58, 0.1, 0.45, 0.5, 0.5, 0.48, 0.5, 0.49, 0.5, 0.48, 0.5, 0.2, 0.45, 0.48, 0.5, 0.48, 0.5, 0.49, 0.5, 0.52, 0.55, 0.58, 0.6],
    [0.75, 0.72, 0.74, 0.72, 0.7, 0.72, 0.74, 0.72, 0.7, 0.72, 0.7, 0.68, 0.4, 0.55, 0.58, 0.55, 0.52, 0.55, 0.53, 0.55, 0.52, 0.5, 0.4, 0.48, 0.52, 0.55, 0.53, 0.55, 0.52, 0.55, 0.58, 0.6, 0.62, 0.62],
    [0.55, 0.57, 0.55, 0.57, 0.55, 0.56, 0.55, 0.57, 0.3, 0.35, 0.38, 0.38, 0.1, 0.3, 0.35, 0.4, 0.42, 0.45, 0.43, 0.45, 0.42, 0.45, 0.1, 0.4, 0.42, 0.45, 0.43, 0.45, 0.42, 0.45, 0.48, 0.5, 0.52, 0.55],
    [0.65, 0.66, 0.64, 0.66, 0.65, 0.66, 0.64, 0.66, 0.65, 0.66, 0.64, 0.62, 0.2, 0.45, 0.48, 0.5, 0.47, 0.48, 0.46, 0.48, 0.47, 0.46, 0.2, 0.44, 0.47, 0.48, 0.46, 0.48, 0.47, 0.48, 0.5, 0.52, 0.55, 0.55],
    [0.5, 0.52, 0.5, 0.52, 0.5, 0.52, 0.5, 0.52, 0.5, 0.52, 0.5, 0.48, 0.02, 0.02, 0.38, 0.4, 0.4, 0.42, 0.4, 0.42, 0.4, 0.42, 0.4, 0.4, 0.42, 0.4, 0.42, 0.4, 0.42, 0.4, 0.42, 0.45, 0.48, 0.5],
    [0.68, 0.7, 0.68, 0.7, 0.68, 0.7, 0.68, 0.7, 0.68, 0.7, 0.68, 0.66, 0.3, 0.5, 0.55, 0.58, 0.6, 0.58, 0.6, 0.58, 0.6, 0.58, 0.3, 0.55, 0.58, 0.6, 0.58, 0.6, 0.58, 0.6, 0.62, 0.65, 0.7, 0.7],
    [0.1, 0.1, 0.1, 0.1, 0.1, 0.1, 0.1, 0.1, 0.1, 0.1, 0.1, 0.1, 0.1, 0.1, 0.1, 0.1, 0.15, 0.15, 0.15, 0.15, 0.15, 0.15, 0.15, 0.15, 0.15, 0.15, 0.15, 0.12, 0.12, 0.12, 0.12, 0.12, 0.1, 0.1],
    [0.4, 0.38, 0.36, 0.38, 0.4, 0.42, 0.44, 0.45, 0.45, 0.5, 0.55, 0.55, 0.1, 0.2, 0.4, 0.45, 0.55, 0.5, 0.52, 0.5, 0.52, 0.5, 0.1, 0.45, 0.5, 0.52, 0.5, 0.52, 0.5, 0.52, 0.55, 0.6, 0.65, 0.68],
    [0.6, 0.58, 0.6, 0.58, 0.6, 0.58, 0.6, 0.58, 0.6, 0.58, 0.6, 0.58, 0.02, 0.02, 0.02, 0.1, 0.12, 0.1, 0.2, 0.22, 0.2, 0.22, 0.02, 0.2, 0.25, 0.3, 0.35, 0.4, 0.42, 0.45, 0.48, 0.5, 0.52, 0.55],
    [0.5, 0.45, 0.42, 0.4, 0.38, 0.35, 0.35, 0.35, 0.35, 0.35, 0.35, 0.35, 0.05, 0.05, 0.2, 0.3, 0.32, 0.3, 0.32, 0.3, 0.32, 0.3, 0.05, 0.28, 0.3, 0.32, 0.3, 0.25, 0.2, 0.22, 0.25, 0.3, 0.35, 0.4],
]
F_SPIKES = [(0.15, 0.6, 1.38), (0.4, 0.6, 1.22), (0.65, 0.6, 1.13), (0.85, 0.6, 1.05), (1.05, 0.6, 1.37), (1.9, 0.6, 1.1),
            (2.1, 0.6, 1.08), (2.7, 0.6, 0.98), (3.8, 0.6, 1.27), (4.6, 0.6, 1.43), (4.9, 0.6, 1.22), (5.7, 0.6, 1.75),
            (5.8, 0.6, 2.5), (6.0, 0.6, 1.35), (6.2, 0.6, 1.3), (6.9, 0.6, 1.38), (7.4, 0.3, 1.48), (7.8, 0.3, 1.85),
            (7.9, 0.5, 1.2), (9.0, 0.5, 1.35), (9.4, 0.5, 1.15), (10.4, 0.5, 0.95), (10.8, 0.5, 1.0), (11.5, 0.5, 0.98),
            (12.3, 0.5, 1.88), (12.4, 0.5, 1.6), (13.2, 0.5, 0.95), (14.2, 0.5, 0.95), (15.6, 0.5, 1.2), (16.2, 0.5, 1.4),
            (16.6, 0.5, 1.05), (17.1, 0.5, 1.05), (17.9, 0.5, 1.15), (18.9, 0.5, 1.0), (19.7, 0.5, 1.38), (20.0, 0.5, 1.05),
            (20.7, 0.5, 1.15), (21.2, 0.5, 1.05), (21.5, 0.5, 0.9), (21.9, 0.5, 0.98), (22.2, 0.5, 1.5), (22.3, 0.5, 1.35),
            (22.9, 0.5, 1.05)]
F_SPIKE_COLORS = [5, 2, 1, 5, 8, 8, 6, 5, 1, 7, 8, 9, 0, 7, 4, 8, 3, 3, 2, 2, 0, 5, 5, 8, 0, 8, 7, 1, 4, 0, 6, 1, 9, 2,
                  8, 3, 9, 0, 6, 8, 4, 8, 3]


def day_line(grids, segs):
    # joins the heating periods of one day, zero outside them
    t = [x for g in grids for x in g]
    v = [y for s in segs for y in s]
    if t[0] > 0:
        t = [0.0] + t
        v = [0.0] + v
    if t[-1] < 24:
        t = t + [24.0]
        v = v + [0.0]
    return t, v


panel_lines = [
    [day_line([A_T_AM, A_T_PM], [am, pm]) for am, pm in zip(A_AM, A_PM)],
    [day_line([B_T_AM, B_T_MID, B_T_PM], [am, md, pm]) for am, md, pm in zip(B_AM, B_MID, B_PM)],
    [day_line([C_T_0, C_T_AM, C_T_PM], [st, am, pm]) for st, am, pm in zip(C_START, C_AM, C_PM)],
    [day_line([D_T], [d]) for d in D_DAY],
    [day_line([E_T_0, E_T_AM, E_T_PM], [st, am, pm]) for st, am, pm in zip(E_START, E_AM, E_PM)],
    [day_line([F_T], [d]) for d in F_DAY],
]
panel_extra = [(A_EXTRA, A_EXTRA_COLORS), (B_EXTRA, B_EXTRA_COLORS), (C_EXTRA, C_EXTRA_COLORS),
               (D_EXTRA, D_EXTRA_COLORS), ([], []), ([], [])]
panel_spikes = [([], []), ([], []), ([], []), (D_SPIKES, D_SPIKE_COLORS), ([], []), (F_SPIKES, F_SPIKE_COLORS)]

TXT = '#444444'
plt.rcParams['font.family'] = ['DejaVu Serif']
fig = plt.figure(figsize=(11.71, 6.65), dpi=100)

W, H = 1171.0, 665.0
col_left = [63, 668]
row_top = [36.5, 264.5, 493]
ax_w, ax_h = 487, 126
LW = 1.0
HW = 0.06  # half width of a spike, hours

for i in range(6):
    r, c = divmod(i, 2)
    ax = fig.add_axes([col_left[c] / W, 1 - (row_top[r] + ax_h) / H, ax_w / W, ax_h / H])
    for k, (t, v) in enumerate(panel_lines[i]):
        ax.plot(t, v, color=COLORS[k % 10], lw=LW)
    for (t, v), ci in zip(*panel_extra[i]):
        ax.plot(t, v, color=COLORS[ci], lw=LW)
    for (ts, base, peak), ci in zip(*panel_spikes[i]):
        ax.plot([ts - HW, ts, ts + HW], [base, peak, base], color=COLORS[ci], lw=LW)

    ax.set_xlim(0, 24)
    ax.set_ylim(0, Y_MAX[i])
    ax.set_xticks(X_TICKS)
    ax.set_yticks(Y_TICKS[i])
    ax.grid(True, color='#eeeeee', lw=1)
    ax.set_axisbelow(True)
    for s in ['top', 'right']:
        ax.spines[s].set_visible(False)
    for s in ['left', 'bottom']:
        ax.spines[s].set_color(TXT)
        ax.spines[s].set_linewidth(1)
        ax.spines[s].set_zorder(5)
    ax.tick_params(length=0, labelsize=11.5, colors=TXT, pad=2)
    ax.set_title(TITLES[i], fontsize=13.8, color=TXT, pad=12, x=0.49)
    ax.set_xlabel('Time of day [hr]', fontsize=12, color=TXT, labelpad=1)
    ax.set_ylabel('Heat demand [kW]', fontsize=12, color=TXT, labelpad=8)

fig.savefig('out.png', dpi=100)
